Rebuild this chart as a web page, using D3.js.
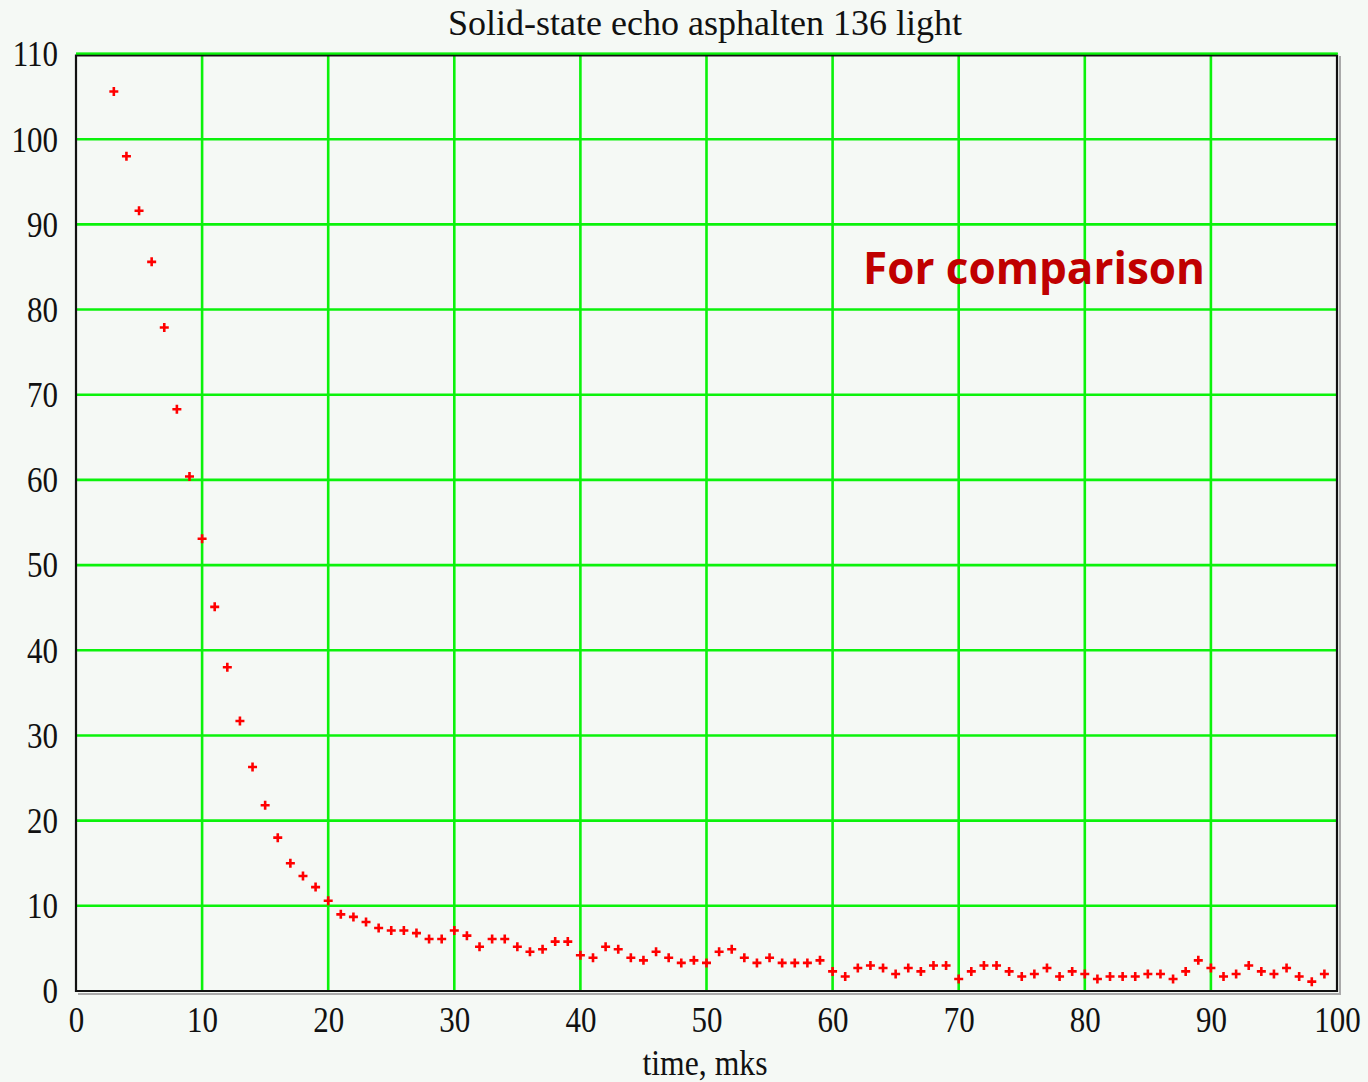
<!DOCTYPE html>
<html>
<head>
<meta charset="utf-8">
<script src="https://cdn.jsdelivr.net/npm/d3@7"></script>
<style>
  html, body { margin: 0; padding: 0; background: #f5f9f5; }
  svg { display: block; }
  .tick text, .lbl {
    font-family: "Liberation Serif", "DejaVu Serif", serif;
    fill: #111;
    transform-box: fill-box;
    transform-origin: center;
    transform: scaleY(1.18);
  }
</style>
</head>
<body>
<svg width="1368" height="1082"></svg>
<script>
// time, mks
const times = [3, 4, 5, 6, 7, 8, 9, 10, 11, 12, 13, 14, 15, 16, 17, 18, 19, 20,
  21, 22, 23, 24, 25, 26, 27, 28, 29, 30, 31, 32, 33, 34, 35, 36, 37, 38, 39, 40,
  41, 42, 43, 44, 45, 46, 47, 48, 49, 50, 51, 52, 53, 54, 55, 56, 57, 58, 59, 60,
  61, 62, 63, 64, 65, 66, 67, 68, 69, 70, 71, 72, 73, 74, 75, 76, 77, 78, 79, 80,
  81, 82, 83, 84, 85, 86, 87, 88, 89, 90, 91, 92, 93, 94, 95, 96, 97, 98, 99];
// echo amplitude
const echo = [105.6, 98.0, 91.6, 85.6, 77.9, 68.3, 60.4, 53.1, 45.1, 38.0, 31.7, 26.3, 21.8, 18.0, 15.0, 13.5, 12.2, 10.6,
  9.0, 8.7, 8.1, 7.4, 7.1, 7.1, 6.8, 6.1, 6.1, 7.1, 6.5, 5.2, 6.1, 6.1, 5.2, 4.6, 4.9, 5.8, 5.8, 4.2,
  3.9, 5.2, 4.9, 3.9, 3.6, 4.6, 3.9, 3.3, 3.6, 3.3, 4.6, 4.9, 3.9, 3.3, 3.9, 3.3, 3.3, 3.3, 3.6, 2.3,
  1.7, 2.7, 3.0, 2.7, 2.0, 2.7, 2.3, 3.0, 3.0, 1.4, 2.3, 3.0, 3.0, 2.3, 1.7, 2.0, 2.7, 1.7, 2.3, 2.0,
  1.4, 1.7, 1.7, 1.7, 2.0, 2.0, 1.4, 2.3, 3.6, 2.7, 1.7, 2.0, 3.0, 2.3, 2.0, 2.7, 1.7, 1.1, 2.0];
const xTicks = [0, 10, 20, 30, 40, 50, 60, 70, 80, 90, 100];
const yTicks = [0, 10, 20, 30, 40, 50, 60, 70, 80, 90, 100, 110];
const title = "Solid-state echo asphalten 136 light";
const xLabel = "time, mks";
const note = "For comparison";

const svg = d3.select("svg");
const pl = 76, pr = 1337, pt = 54, pb = 991;
const gridColor = "#0bf20b";

const x = d3.scaleLinear().domain([0, 100]).range([pl, pr]);
const y = d3.scaleLinear().domain([0, 110]).range([pb, pt]);

// grid
svg.append("g")
  .selectAll("line")
  .data(xTicks.filter(d => d > 0 && d < 100))
  .join("line")
  .attr("x1", d => x(d)).attr("x2", d => x(d))
  .attr("y1", pt).attr("y2", pb)
  .attr("stroke", gridColor).attr("stroke-width", 2.6);

svg.append("g")
  .selectAll("line")
  .data(yTicks.filter(d => d > 0))
  .join("line")
  .attr("x1", pl).attr("x2", pr)
  .attr("y1", d => y(d)).attr("y2", d => y(d))
  .attr("stroke", gridColor).attr("stroke-width", 2.6);

// frame: black left/bottom/right, shadow on right and bottom
svg.append("path")
  .attr("d", `M${pr + 3},${pt + 2}V${pb + 3}H${pl + 2}`)
  .attr("fill", "none").attr("stroke", "#aaa").attr("stroke-width", 2);
svg.append("path")
  .attr("d", `M${pl},${pt + 1.5}H${pr}V${pb}H${pl}Z`)
  .attr("fill", "none").attr("stroke", "#111").attr("stroke-width", 2.2);
svg.append("line")
  .attr("x1", pl).attr("x2", pr + 1)
  .attr("y1", pt - 0.5).attr("y2", pt - 0.5)
  .attr("stroke", gridColor).attr("stroke-width", 2);

// axes
const xAxis = svg.append("g")
  .attr("transform", `translate(0,${pb})`)
  .call(d3.axisBottom(x).tickValues(xTicks).tickSize(0).tickPadding(17));
const yAxis = svg.append("g")
  .attr("transform", `translate(${pl},0)`)
  .call(d3.axisLeft(y).tickValues(yTicks).tickSize(0).tickPadding(18));
[xAxis, yAxis].forEach(g => {
  g.select(".domain").remove();
  g.selectAll("text").attr("font-size", 31);
});

// markers
const pts = times.map((t, i) => [t, echo[i]]);
svg.append("g")
  .selectAll("path")
  .data(pts)
  .join("path")
  .attr("d", d => `M${x(d[0]) - 4.5},${y(d[1])}h9M${x(d[0])},${y(d[1]) - 4.5}v9`)
  .attr("stroke", "#ff0000").attr("stroke-width", 2.6);

// texts
svg.append("text")
  .attr("class", "lbl")
  .attr("x", 705).attr("y", 33)
  .attr("text-anchor", "middle")
  .attr("font-size", 31)
  .attr("textLength", 514)
  .attr("lengthAdjust", "spacingAndGlyphs")
  .text(title);

svg.append("text")
  .attr("class", "lbl")
  .attr("x", 705).attr("y", 1073)
  .attr("text-anchor", "middle")
  .attr("font-size", 31)
  .attr("textLength", 125)
  .attr("lengthAdjust", "spacingAndGlyphs")
  .text(xLabel);

svg.append("text")
  .attr("x", 863).attr("y", 284)
  .attr("font-family", "'Open Sans', sans-serif")
  .attr("font-weight", "bold")
  .attr("font-size", 45)
  .attr("textLength", 342)
  .attr("lengthAdjust", "spacingAndGlyphs")
  .attr("fill", "#c00000")
  .text(note);
</script>
</body>
</html>
